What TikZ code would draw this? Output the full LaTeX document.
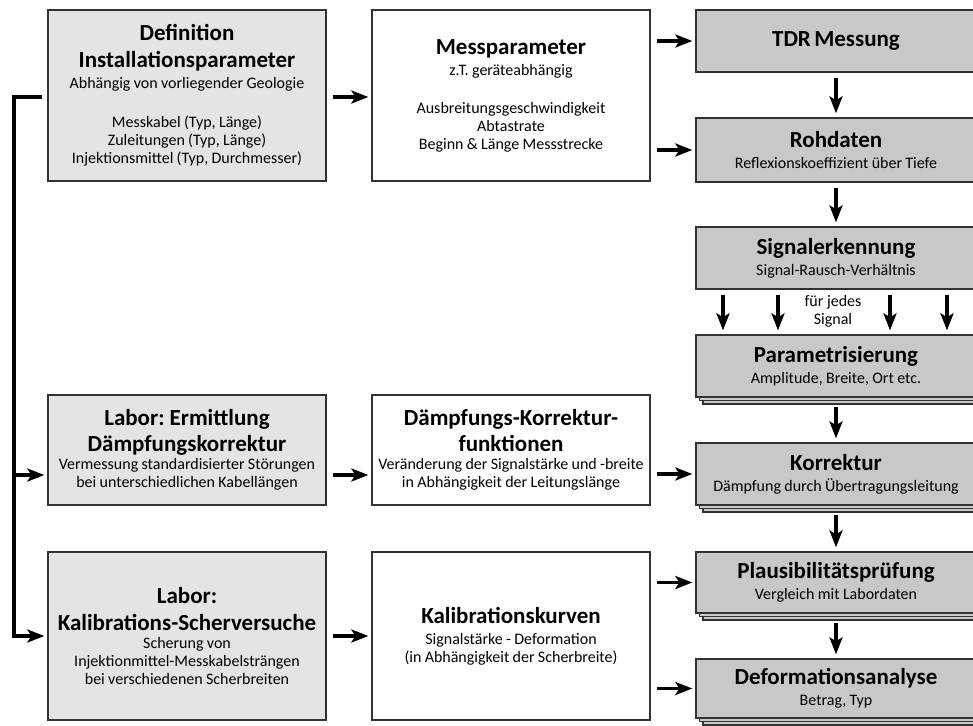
\documentclass[tikz,border=0pt]{standalone}
\usepackage{fontspec}
\setmainfont{Carlito}
\usetikzlibrary{arrows.meta,shadows}
\definecolor{lgray}{RGB}{228,228,228}
\definecolor{dgray}{RGB}{200,200,200}
\definecolor{edgec}{RGB}{50,50,50}
\newcommand\mytitle{\fontsize{23}{26.5}\selectfont\bfseries}
\newcommand\mysub{\fontsize{16}{18}\selectfont}
\newcommand\tsgap{\vspace{3pt}}
\begin{document}
\begin{tikzpicture}[x=1pt,y=-1pt,
  base/.style={draw=edgec, line width=1.3pt, inner ysep=0pt, inner xsep=-6pt, align=center, text width=290pt, minimum width=278pt},
  lbox/.style={base, fill=lgray},
  wbox/.style={base, fill=white},
  rbox/.style={base, fill=dgray, minimum width=280pt},
  stack/.style={double copy shadow={shadow xshift=3.5pt, shadow yshift=-3.5pt}},
  arr/.style={line width=3.4pt, -{Stealth[length=17pt,width=13pt,inset=4pt]}, shorten <=6pt, shorten >=3pt},
  varr/.style={arr, shorten <=5pt, shorten >=4pt}]
\useasboundingbox (0,0) rectangle (973,725);
\clip (0,0) rectangle (973,725);

% left column
\node[lbox, minimum height=171pt] (B1) at (187,95.5) {{\mytitle Definition\\Installationsparameter\par}\tsgap{\mysub Abhängig von vorliegender Geologie\par\vspace{21pt}Messkabel (Typ, Länge)\\Zuleitungen (Typ, Länge)\\Injektionsmittel (Typ, Durchmesser)\par}};
\node[lbox, minimum height=110pt] (B2) at (187,450) {{\mytitle Labor: Ermittlung\\Dämpfungskorrektur\par}{\mysub Vermessung standardisierter Störungen\\bei unterschiedlichen Kabellängen\par}};
\node[lbox, minimum height=168pt] (B3) at (187,636) {{\mytitle Labor:\\Kalibrations-Scherversuche\par}{\mysub Scherung von\\Injektionmittel-Messkabelsträngen\\bei verschiedenen Scherbreiten\par}};

% middle column
\node[wbox, minimum height=171pt] (M1) at (511,95.5) {{\mytitle Messparameter\par}\tsgap{\mysub z.T. geräteabhängig\par\vspace{20pt}Ausbreitungsgeschwindigkeit\\Abtastrate\\Beginn \& Länge Messstrecke\par}};
\node[wbox, minimum height=110pt] (M2) at (511,450) {{\mytitle Dämpfungs-Korrektur-\\funktionen\par}{\mysub Veränderung der Signalstärke und -breite\\in Abhängigkeit der Leitungslänge\par}};
\node[wbox, minimum height=168pt] (M3) at (511,636) {{\mytitle Kalibrationskurven\par}\tsgap{\mysub Signalstärke - Deformation\\(in Abhängigkeit der Scherbreite)\par}};

% right column
\node[rbox, minimum height=62pt] (R1) at (836,41) {{\mytitle TDR Messung\par}};
\node[rbox, minimum height=64pt] (R2) at (836,150) {{\mytitle Rohdaten\par}\tsgap{\mysub Reflexionskoeffizient über Tiefe\par}};
\node[rbox, minimum height=62pt] (R3) at (836,258) {{\mytitle Signalerkennung\par}\tsgap{\mysub Signal-Rausch-Verhältnis\par}};
\node[rbox, stack, minimum height=62pt] (R4) at (836,366) {{\mytitle Parametrisierung\par}\tsgap{\mysub Amplitude, Breite, Ort etc.\par}};
\node[rbox, stack, minimum height=62pt] (R5) at (836,474) {{\mytitle Korrektur\par}\tsgap{\mysub Dämpfung durch Übertragungsleitung\par}};
\node[rbox, stack, minimum height=61pt] (R6) at (836,582.5) {{\mytitle Plausibilitätsprüfung\par}\tsgap{\mysub Vergleich mit Labordaten\par}};
\node[rbox, stack, minimum height=59pt] (R7) at (836,688.5) {{\mytitle Deformationsanalyse\par}\tsgap{\mysub Betrag, Typ\par}};

\node[font=\mysub, align=center, inner sep=0pt] (fj) at (833,311) {für jedes\\Signal};

% horizontal connectors
\draw[arr] (B1.east |- 0,97) -- (M1.west |- 0,97);
\draw[arr] (M1.east |- R1.west) -- (R1.west);
\draw[arr] (M1.east |- R2.west) -- (R2.west);
\draw[arr] ([yshift=-25pt]B2.east) -- ([yshift=-25pt]M2.west);
\draw[arr] (M2.east |- R5.west) -- (R5.west);
\draw[arr] (B3.east) -- (M3.west);
\draw[arr] (M3.east |- R6.west) -- (R6.west);
\draw[arr] (M3.east |- R7.west) -- (R7.west);

% vertical connectors
\draw[varr] (R1.south) -- (R2.north);
\draw[varr] (R2.south) -- (R3.north);
\draw[varr, shorten <=9pt] (R4.south) -- (R5.north);
\draw[varr, shorten <=9pt] (R5.south) -- (R6.north);
\draw[varr, shorten <=9pt] (R6.south) -- (R7.north);
\foreach \dx in {-113,-58,54,111}
  \draw[varr] ([xshift=\dx pt]R3.south) -- ([xshift=\dx pt]R4.north);

% left bracket
\coordinate (lt) at (14,97);
\coordinate (lm) at (14,475);
\coordinate (lb) at (14,636);
\draw[arr, shorten <=5pt] (B1.west |- lt) -- (lt) -- (lb) -- (B3.west);
\draw[arr, shorten <=0pt] (lm) -- ([yshift=-25pt]B2.west);
\end{tikzpicture}
\end{document}
